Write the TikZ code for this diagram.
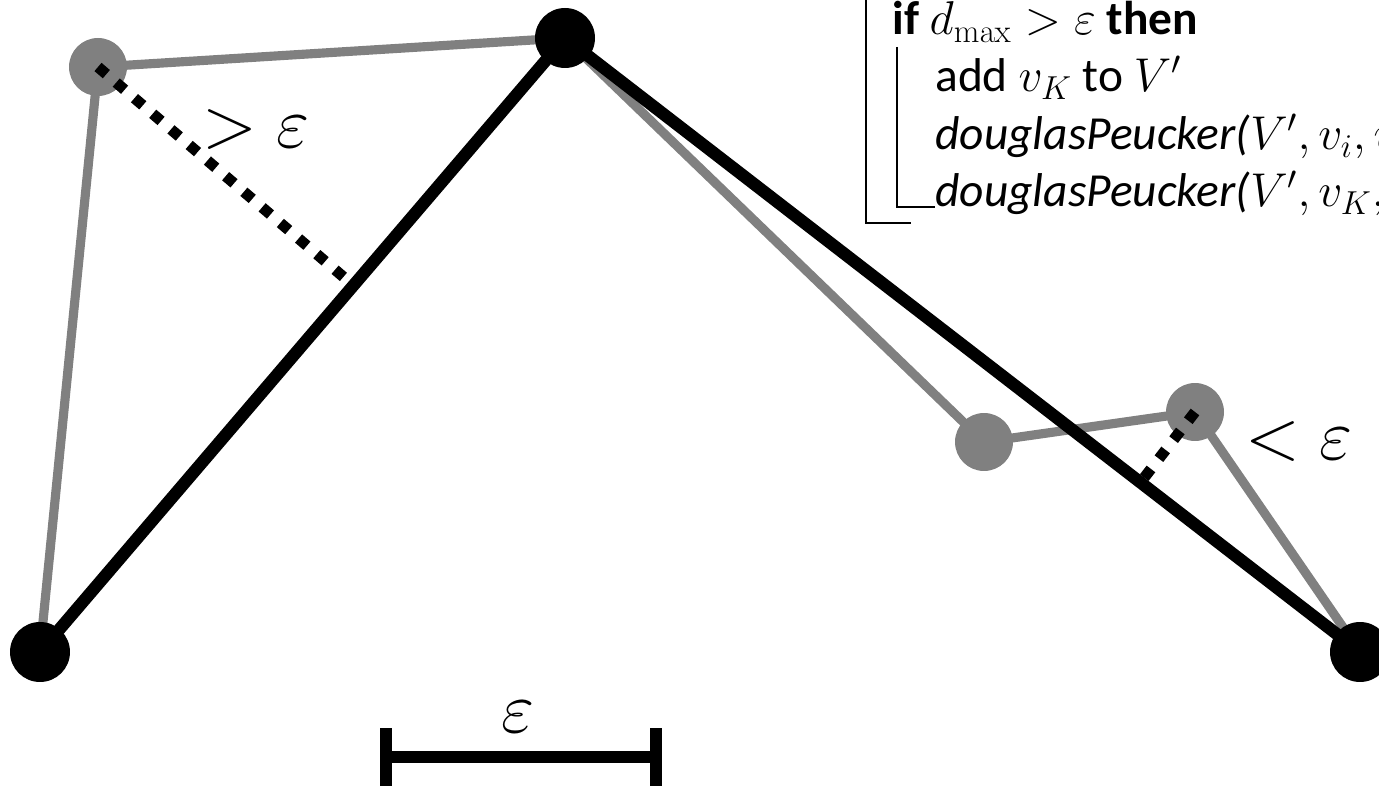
\RequirePackage{fix-cm}
\documentclass[tikz,border=0pt]{standalone}
\usepackage[no-math]{fontspec}
\setmainfont{Carlito}
\usepackage{tikz}
\usetikzlibrary{calc}
\definecolor{origgray}{HTML}{808080}

\begin{document}
\begin{tikzpicture}[x=0.02cm, y=-0.02cm,
    orig/.style={draw=origgray, line width=5.2pt, line join=round},
    simp/.style={draw=black, line width=7pt, line join=round},
    dist/.style={draw=black, line width=6.2pt, dash pattern=on 0.22cm off 0.26cm},
    rule/.style={draw=black, line width=1.1pt},
    big/.style={anchor=base, inner sep=0pt, font=\fontsize{41}{46}\selectfont},
    algo/.style={anchor=base west, inner sep=0pt, font=\fontsize{27}{32}\selectfont}]
  \useasboundingbox (0,0) rectangle (1379,786);
  \clip (0,0) rectangle (1379,786);

  \coordinate (v1) at (40,652);
  \coordinate (v2) at (98,67);
  \coordinate (v3) at (565,38);
  \coordinate (v4) at (984,442);
  \coordinate (v5) at (1195,412);
  \coordinate (v6) at (1360,652);

  \draw[orig] (v1) -- (v2) -- (v3) -- (v4) -- (v5) -- (v6);
  \draw[simp] (v1) -- (v3) -- (v6);
  \foreach \v in {v2,v4,v5}
    \fill[origgray] (\v) circle (0.58cm);
  \foreach \v in {v1,v3,v6}
    \fill[black] (\v) circle (0.6cm);

  \draw[dist] (v2) -- ($(v1)!(v2)!(v3)$);
  \draw[dist] (v5) -- ($(v3)!(v5)!(v6)$);

  \node[big] (far) at (256,148) {$>\varepsilon$};
  \node[big] (near) at (1299,460) {$<\varepsilon$};
  \node[big] (eps) at (518,732) {$\varepsilon$};

  \coordinate (bl) at (386,757);
  \coordinate (br) at (656,757);
  \draw[simp] ($(bl)+(-6,0)$) -- ($(br)+(6,0)$);
  \draw[simp] ($(bl)+(0,-29)$) -- ($(bl)+(0,35)$);
  \draw[simp] ($(br)+(0,-29)$) -- ($(br)+(0,35)$);

  \node[algo] (l1) at (892,35) {\textbf{if} $d_{\mathrm{max}} > \varepsilon$ \textbf{then}};
  \node[algo] (l2) at (935,92) {add $v_K$ to $V'$};
  \node[algo] (l3) at (935,150) {\textit{douglasPeucker(}$V', v_i, v_K$\textit{)}};
  \node[algo] (l4) at (935,207) {\textit{douglasPeucker(}$V', v_K, v_j$\textit{)}};

  \draw[rule] (866,-5) |- (911,223);
  \draw[rule] (897,47) |- (l4.base west);
\end{tikzpicture}
\end{document}
